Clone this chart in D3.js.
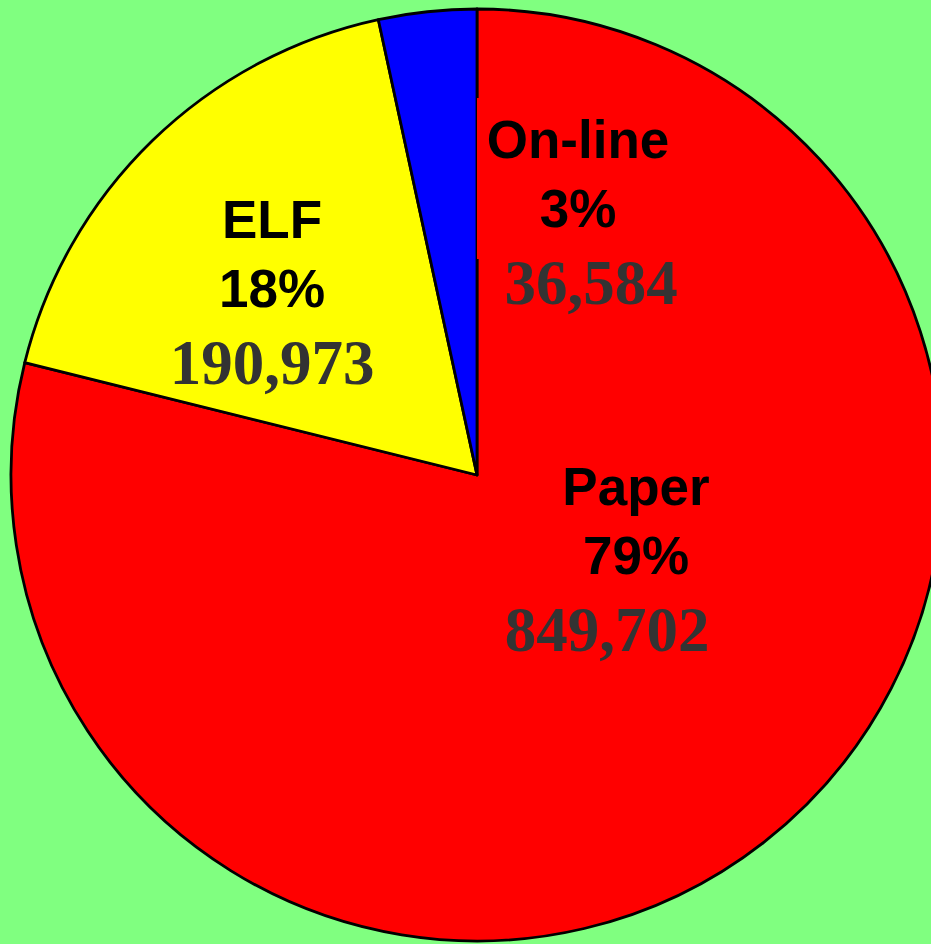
<!DOCTYPE html>
<html>
<head>
<meta charset="utf-8">
<script src="https://cdn.jsdelivr.net/npm/d3@7"></script>
<style>
  html, body { margin: 0; padding: 0; background: #80ff80; }
  svg { display: block; }
</style>
</head>
<body>
<svg id="chart"></svg>
<script>
// data
const categories = ["Paper", "ELF", "On-line"];
const counts = [849702, 190973, 36584];
const sliceColors = ["#ff0000", "#ffff00", "#0000ff"];

const svgWidth = 931, svgHeight = 944;
const cx = 477, cy = 475, radius = 466;

// where each label block sits (centre x, first baseline)
const labelPos = {
  "Paper":   {x: 636, y: 505, nx: 607},
  "ELF":     {x: 272, y: 238, nx: 272},
  "On-line": {x: 578, y: 158, nx: 591}
};

const chart = d3.select("#chart")
    .attr("width", svgWidth)
    .attr("height", svgHeight);

chart.append("rect")
    .attr("width", svgWidth)
    .attr("height", svgHeight)
    .attr("fill", "#80ff80");

const total = d3.sum(counts);
const data = categories.map(function(c, i) { return {name: c, value: counts[i], color: sliceColors[i]}; });

const pie = d3.pie().sort(null).value(d => d.value).startAngle(0).endAngle(2 * Math.PI);
const arc = d3.arc().innerRadius(0).outerRadius(radius);

const g = chart.append("g")
    .attr("transform", "translate(" + cx + "," + cy + ")");

g.selectAll("path")
  .data(pie(data))
  .enter()
  .append("path")
    .attr("d", arc)
    .attr("fill", d => d.data.color)
    .attr("stroke", "black")
    .attr("stroke-width", 2.8)
    .attr("stroke-linejoin", "round");

// the On-line label has a red box that hides part of the slice edge
chart.append("rect")
    .attr("x", cx)
    .attr("y", 98)
    .attr("width", 205)
    .attr("height", 161)
    .attr("fill", "#ff0000");

const pct = d3.format(".0%");
const num = d3.format(",");

const labels = chart.selectAll("g.lbl")
  .data(data)
  .enter()
  .append("g")
    .attr("class", "lbl");

labels.append("text")
    .attr("x", d => labelPos[d.name].x)
    .attr("y", d => labelPos[d.name].y)
    .attr("text-anchor", "middle")
    .style("font-family", "'Liberation Sans', Arial, sans-serif")
    .style("font-weight", "bold")
    .style("font-size", "53px")
    .attr("fill", "black")
    .text(d => d.name);

labels.append("text")
    .attr("x", d => labelPos[d.name].x)
    .attr("y", d => labelPos[d.name].y + 69)
    .attr("text-anchor", "middle")
    .style("font-family", "'Liberation Sans', Arial, sans-serif")
    .style("font-weight", "bold")
    .style("font-size", "53px")
    .attr("fill", "black")
    .text(d => pct(d.value / total));

labels.append("text")
    .attr("x", d => labelPos[d.name].nx)
    .attr("y", d => labelPos[d.name].y + 146)
    .attr("text-anchor", "middle")
    .style("font-family", "'Liberation Serif', 'Times New Roman', serif")
    .style("font-weight", "bold")
    .style("font-size", "63px")
    .attr("fill", "#333333")
    .text(d => num(d.value));
</script>
</body>
</html>
